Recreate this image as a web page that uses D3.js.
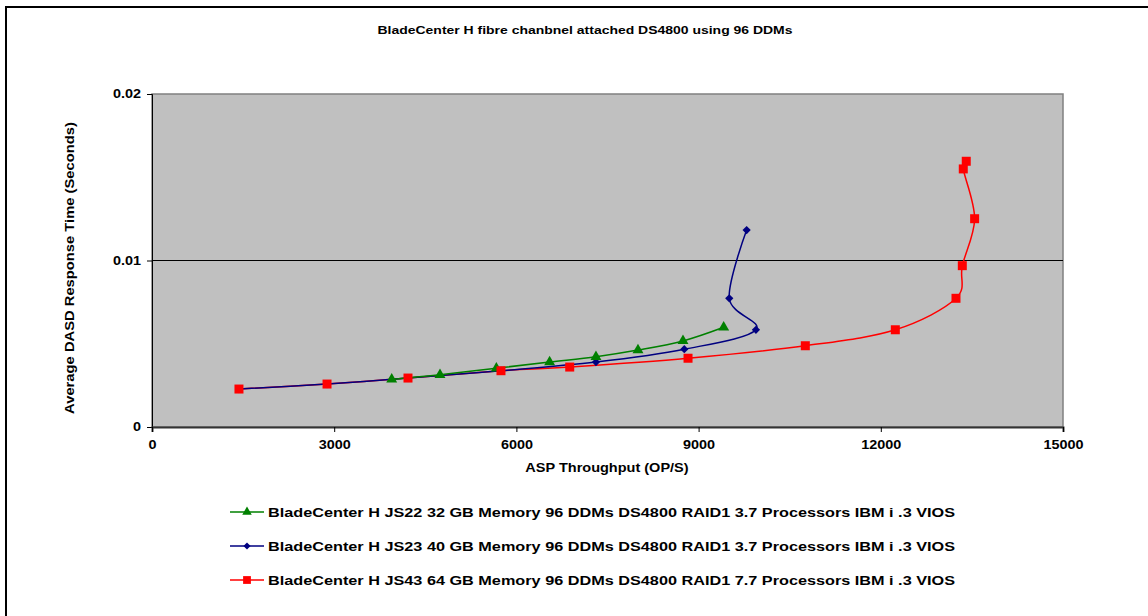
<!DOCTYPE html>
<html><head><meta charset="utf-8">
<script src="https://cdn.jsdelivr.net/npm/d3@7"></script>
<style>body{margin:0;background:#fff}svg{display:block;font-family:"Liberation Sans",Arial,sans-serif}</style>
</head><body><svg id="c" width="1148" height="616"></svg>
<script>
const title = "BladeCenter H fibre chanbnel attached DS4800 using 96 DDMs";
const xTitle = "ASP Throughput (OP/S)";
const yTitle = "Average DASD Response Time (Seconds)";
const xTicks = [0, 3000, 6000, 9000, 12000, 15000];
const yTicks = [0, 0.01, 0.02];
const yTickLabels = ["0", "0.01", "0.02"];
const seriesNames = [
  "BladeCenter H JS22 32 GB Memory 96 DDMs DS4800 RAID1 3.7 Processors IBM i .3 VIOS",
  "BladeCenter H JS23 40 GB Memory 96 DDMs DS4800 RAID1 3.7 Processors IBM i .3 VIOS",
  "BladeCenter H JS43 64 GB Memory 96 DDMs DS4800 RAID1 7.7 Processors IBM i .3 VIOS"
];
const js22X = [3947, 4742, 5670, 6547, 7310, 8002, 8743, 9413];
const js22Y = [0.00286, 0.00314, 0.00353, 0.0039, 0.00422, 0.00462, 0.00517, 0.00599];
const js23X = [1432, 2882, 4215, 5746, 7310, 8764, 9944, 9505, 9791];
const js23Y = [0.00228, 0.00258, 0.00294, 0.00338, 0.0039, 0.00467, 0.00584, 0.00773, 0.01183];
const js43X = [1432, 2882, 4215, 5746, 6878, 8826, 10757, 12239, 13238, 13342, 13545, 13358, 13407];
const js43Y = [0.00228, 0.00258, 0.00294, 0.00338, 0.0036, 0.00413, 0.00488, 0.00584, 0.00773, 0.00969, 0.01251, 0.0155, 0.01596];

const svg = d3.select("#c");
const L = 152, R = 1063, T = 94, B = 427;
const x = d3.scaleLinear().domain([0, 15000]).range([L, R]);
const y = d3.scaleLinear().domain([0, 0.02]).range([B, T]);

function stretch(sel, k) {
  sel.each(function () {
    const w = this.getComputedTextLength();
    d3.select(this).attr("textLength", w * k).attr("lengthAdjust", "spacingAndGlyphs");
  });
}

// outer frame
svg.append("path").attr("d", `M6,616 V7 H1148`).attr("fill", "none").attr("stroke", "#000").attr("stroke-width", 2);

// title
svg.append("text").attr("x", 585).attr("y", 34).attr("text-anchor", "middle")
  .attr("font-size", 11).attr("font-weight", "bold").attr("textLength", 415).attr("lengthAdjust", "spacingAndGlyphs").text(title);

// plot area
svg.append("rect").attr("x", L).attr("y", T).attr("width", R - L).attr("height", B - T)
  .attr("fill", "#C0C0C0").attr("stroke", "#808080").attr("stroke-width", 1.5);

// gridline
svg.append("g").selectAll("line").data(yTicks.filter(d => d > 0 && d < 0.02)).join("line")
  .attr("x1", L).attr("x2", R).attr("y1", d => y(d)).attr("y2", d => y(d)).attr("stroke", "#000").attr("stroke-width", 1);

// axes
const yAxis = d3.axisLeft(y).tickValues(yTicks).tickFormat((d, i) => yTickLabels[i]).tickSize(5).tickPadding(6);
const gy = svg.append("g").attr("transform", `translate(${L},0)`).call(yAxis);
gy.select(".domain").attr("stroke", "#000");
gy.selectAll("text").attr("font-size", 12).attr("font-weight", "bold").attr("fill", "#000").attr("font-family", "Liberation Sans, Arial, sans-serif");
stretch(gy.selectAll("text"), 1.2);

const xAxis = d3.axisBottom(x).tickValues(xTicks).tickFormat(d3.format("d")).tickSize(5).tickPadding(8);
const gx = svg.append("g").attr("transform", `translate(0,${B})`).call(xAxis);
gx.select(".domain").attr("stroke", "#333").attr("stroke-width", 2);
gx.selectAll("text").attr("font-size", 12).attr("font-weight", "bold").attr("fill", "#000").attr("font-family", "Liberation Sans, Arial, sans-serif");
stretch(gx.selectAll("text"), 1.2);

// axis titles
const xt = svg.append("text").attr("x", 607).attr("y", 472).attr("text-anchor", "middle")
  .attr("font-size", 12.5).attr("font-weight", "bold").text(xTitle);
stretch(xt, 1.16);
const yt = svg.append("text").attr("transform", "translate(74,268) rotate(-90)").attr("text-anchor", "middle")
  .attr("font-size", 12.5).attr("font-weight", "bold").text(yTitle);
stretch(yt, 1.18);

const series = [
  {xs: js22X, ys: js22Y, color: "#008000", sym: d3.symbolTriangle, size: 52, rot: 0},
  {xs: js23X, ys: js23Y, color: "#000080", sym: d3.symbolSquare, size: 34, rot: 45},
  {xs: js43X, ys: js43Y, color: "#FF0000", sym: d3.symbolSquare, size: 81, rot: 0}
];
const line = d3.line().x(d => x(d[0])).y(d => y(d[1])).curve(d3.curveCatmullRom.alpha(0));
// lines
[2, 1, 0].forEach(i => {
  const s = series[i];
  const pts = s.xs.map((v, j) => [v, s.ys[j]]);
  svg.append("path").datum(pts).attr("d", line).attr("fill", "none").attr("stroke", s.color).attr("stroke-width", 1.5);
});
// markers
[1, 0, 2].forEach(i => {
  const s = series[i];
  const pts = s.xs.map((v, j) => [v, s.ys[j]]);
  svg.append("g").selectAll("path").data(pts).join("path")
    .attr("transform", d => `translate(${x(d[0])},${y(d[1])}) rotate(${s.rot})`)
    .attr("d", d3.symbol().type(s.sym).size(s.size)).attr("fill", s.color);
});

// legend
const legY = [512, 546, 580];
series.forEach((s, i) => {
  const g = svg.append("g").attr("transform", `translate(0,${legY[i]})`);
  g.append("line").attr("x1", 230).attr("x2", 264).attr("y1", 0).attr("y2", 0).attr("stroke", s.color).attr("stroke-width", 1.5);
  g.append("path").attr("transform", `translate(247,0) rotate(${s.rot})`).attr("d", d3.symbol().type(s.sym).size(s.size * 0.75)).attr("fill", s.color);
  g.append("text").attr("x", 268).attr("y", 5).attr("font-size", 13).attr("font-weight", "bold")
    .attr("textLength", 687).attr("lengthAdjust", "spacingAndGlyphs").text(seriesNames[i]);
});
</script></body></html>
